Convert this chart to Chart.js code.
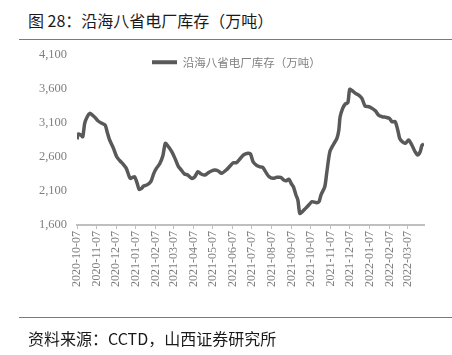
<!DOCTYPE html>
<html>
<head>
<meta charset="utf-8">
<script src="https://cdn.jsdelivr.net/npm/chart.js@4.4.1/dist/chart.umd.min.js"></script>
<style>
  html, body { margin: 0; padding: 0; background: #fff; }
  #wrap { position: relative; width: 452px; height: 355px; overflow: hidden; background: #fff; }
  #c { position: absolute; left: 0; top: 0; }
  .txt { position: absolute; font-family: 'Noto Sans CJK SC', sans-serif; font-size: 16px; line-height: 20px; color: #1a1a1a; white-space: nowrap; }
  .rule { position: absolute; left: 19px; width: 433px; height: 1px; background: #7a7a7a; }
</style>
</head>
<body>
<div id="wrap">
  <div class="txt" style="left:28px; top:10px;">图 28：沿海八省电厂库存（万吨）</div>
  <div class="rule" style="top:39px;"></div>
  <canvas id="c" width="452" height="355"></canvas>
  <div class="rule" style="top:317px;"></div>
  <div class="txt" style="left:28px; top:328px;">资料来源：CCTD，山西证券研究所</div>
</div>
<script>
// ---- data ----
const seriesName = '沿海八省电厂库存（万吨）';

const dates = [
  '2020-10-07','2020-10-09','2020-10-13','2020-10-16','2020-10-19','2020-10-23','2020-10-27','2020-10-31',
  '2020-11-04','2020-11-09','2020-11-15','2020-11-20','2020-11-23','2020-11-27',
  '2020-12-03','2020-12-08','2020-12-13','2020-12-18','2020-12-23','2020-12-29',
  '2021-01-02','2021-01-05','2021-01-09','2021-01-12','2021-01-16','2021-01-19','2021-01-24','2021-01-28','2021-01-31',
  '2021-02-04','2021-02-08','2021-02-13','2021-02-18','2021-02-22','2021-02-26',
  '2021-03-04','2021-03-09','2021-03-14','2021-03-19','2021-03-24','2021-03-29',
  '2021-04-04','2021-04-09','2021-04-14','2021-04-19','2021-04-25','2021-04-30',
  '2021-05-05','2021-05-10','2021-05-15','2021-05-21','2021-05-28',
  '2021-06-03','2021-06-08','2021-06-13','2021-06-18','2021-06-24',
  '2021-07-01','2021-07-05','2021-07-09','2021-07-14','2021-07-19','2021-07-24','2021-07-30',
  '2021-08-03','2021-08-09','2021-08-15','2021-08-21','2021-08-26','2021-08-30',
  '2021-09-03','2021-09-07','2021-09-10','2021-09-14','2021-09-17','2021-09-20','2021-09-24','2021-09-29',
  '2021-10-04','2021-10-09','2021-10-16','2021-10-20','2021-10-23','2021-10-29',
  '2021-11-01','2021-11-06','2021-11-12','2021-11-17','2021-11-20','2021-11-22','2021-11-26','2021-11-30',
  '2021-12-04','2021-12-07','2021-12-11','2021-12-16','2021-12-21','2021-12-26','2021-12-31',
  '2022-01-06','2022-01-11','2022-01-16','2022-01-21','2022-01-27',
  '2022-02-02','2022-02-07','2022-02-11','2022-02-16','2022-02-20','2022-02-23','2022-02-27',
  '2022-03-04','2022-03-09','2022-03-14','2022-03-19','2022-03-23','2022-03-27','2022-03-30','2022-04-02'
];

const stock = [
  2860,2938,2923,2898,3095,3192,3242,3217,
  3183,3129,3095,3070,2972,2850,
  2727,2604,2545,2497,2433,2286,
  2301,2310,2213,2125,2140,2173,2188,2213,2251,
  2360,2433,2497,2614,2801,2761,
  2678,2580,2467,2408,2350,2335,
  2286,2310,2384,2350,2335,2369,
  2394,2408,2398,2360,2408,
  2467,2516,2516,2565,2629,
  2654,2644,2531,2482,2457,2448,2360,
  2310,2286,2301,2301,2262,2251,
  2272,2203,2163,2041,1967,1772,1796,1845,
  1894,1943,1928,1943,2041,2163,
  2360,2678,2791,2874,2997,3192,3315,3379,
  3398,3595,3575,3536,3511,3462,3349,
  3339,3315,3280,3217,3192,
  3183,3168,3119,3119,2997,2874,2825,
  2801,2850,2776,2678,2629,2678,2776,2791
];

const tickDates = [
  '2020-10-07','2020-11-07','2020-12-07','2021-01-07','2021-02-07','2021-03-07',
  '2021-04-07','2021-05-07','2021-06-07','2021-07-07','2021-08-07','2021-09-07',
  '2021-10-07','2021-11-07','2021-12-07','2022-01-07','2022-02-07','2022-03-07'
];

const yMin = 1600, yMax = 4100, yStep = 500;

// ---- helpers ----
const DAY = 86400000;
const t0 = Date.parse(dates[0]);
const dayIndex = s => Math.round((Date.parse(s) - t0) / DAY);

const LINE_COLOR = '#595959';
const TICK_COLOR = '#7f7f7f';
const SERIF = "'Liberation Serif', 'DejaVu Serif', serif";

const legendPlacer = {
  id: 'legendPlacer',
  beforeDraw(chart) {
    const lg = chart.legend;
    if (!lg) return;
    const w = lg.right - lg.left;
    lg.left = 152;
    lg.right = 152 + w;
    lg.top = 56.5;
  }
};

new Chart(document.getElementById('c'), {
  type: 'line',
  data: {
    datasets: [{
      label: seriesName,
      data: dates.map((d, i) => ({ x: dayIndex(d), y: stock[i] })),
      borderColor: LINE_COLOR,
      backgroundColor: LINE_COLOR,
      borderWidth: 3.5,
      pointRadius: 0,
      tension: 0.25,
      fill: false
    }]
  },
  options: {
    responsive: false,
    animation: false,
    devicePixelRatio: 1,
    layout: { padding: { left: 37, right: 28, top: 55, bottom: 60 } },
    plugins: {
      tooltip: { enabled: false },
      legend: {
        position: 'chartArea',
        align: 'start',
        labels: {
          boxWidth: 25,
          boxHeight: 4,
          padding: 0,
          color: '#808080',
          font: { family: "'Noto Sans CJK SC', sans-serif", size: 11.5 },
          generateLabels(chart) {
            const items = Chart.defaults.plugins.legend.labels.generateLabels(chart);
            items.forEach(it => { it.lineWidth = 0; it.fillStyle = LINE_COLOR; });
            return items;
          }
        }
      }
    },
    scales: {
      x: {
        type: 'linear',
        min: 0,
        max: dayIndex(dates[dates.length - 1]),
        afterBuildTicks(scale) {
          scale.ticks = tickDates.map(d => ({ value: dayIndex(d) }));
        },
        afterFit(scale) { scale.height = 70; },
        grid: { display: true, drawOnChartArea: false, drawTicks: true, tickLength: 4, color: '#bfbfbf', lineWidth: 1 },
        border: { display: true, color: '#bfbfbf', width: 2 },
        ticks: {
          autoSkip: false,
          minRotation: 90,
          maxRotation: 90,
          padding: 2,
          color: TICK_COLOR,
          font: { family: SERIF, size: 12 },
          callback: (v, i) => tickDates[i]
        }
      },
      y: {
        min: yMin,
        max: yMax,
        afterFit(scale) { scale.width = 40; },
        grid: { display: false, drawTicks: false },
        border: { display: false },
        ticks: {
          stepSize: yStep,
          padding: 10,
          color: TICK_COLOR,
          font: { family: SERIF, size: 12.5 },
          callback: v => v.toLocaleString('en-US')
        }
      }
    }
  },
  plugins: [legendPlacer]
});
</script>
</body>
</html>
